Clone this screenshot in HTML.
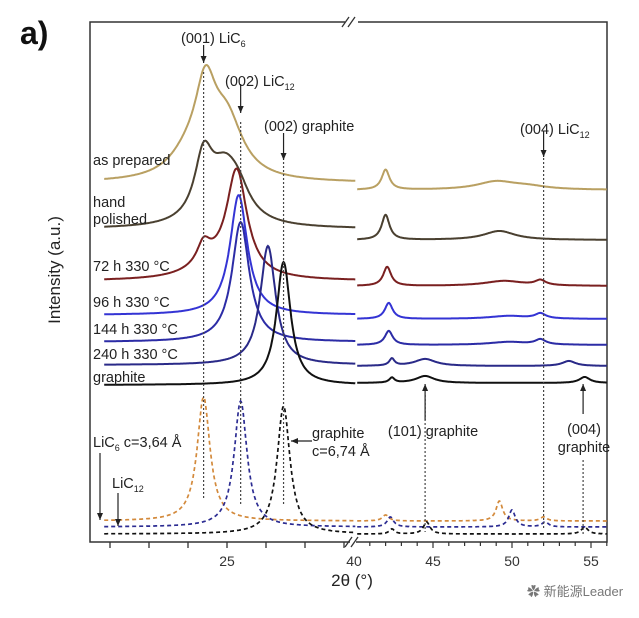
<!DOCTYPE html>
<html><head><meta charset="utf-8">
<style>
html,body{margin:0;padding:0;background:#fff;}
svg{display:block;font-family:"Liberation Sans","Noto Sans CJK SC",sans-serif;}
</style></head>
<body>
<svg id="chart" width="639" height="618" viewBox="0 0 639 618">
  <text x="20" y="44" font-size="32" font-weight="bold" fill="#111">a)</text>
  <text transform="translate(60,270) rotate(-90)" text-anchor="middle" font-size="17" fill="#222">Intensity (a.u.)</text>
  <text x="352" y="586" text-anchor="middle" font-size="17" fill="#222">2θ (°)</text>
  <g id="frame"></g>
  <g id="marks"></g>
  <g id="annot"></g>
  <text x="527" y="596" font-size="13" fill="#777">✿ 新能源Leader</text>
</svg>
<script>
// ---- data ----
const seriesNames = ["as prepared","hand polished","72 h 330 °C","96 h 330 °C","144 h 330 °C","240 h 330 °C","graphite"];
const seriesColors = ["#b9a062","#4a4030","#7a2020","#3434d4","#2c2ca6","#2a2a88","#111111"];
const leftBase = [183,229,281,315,342,365,385];
const rightBase = [190,240,286,319,345,366,383];
const leftPeaks = [
  [[24.45,80,0.33],[25.0,55,0.5],[24.0,20,0.6]],
  [[24.4,60,0.28],[24.95,55,0.5],[25.3,18,0.35]],
  [[25.25,105,0.32],[24.4,20,0.2],[24.6,12,0.7]],
  [[25.3,120,0.27]],
  [[25.35,120,0.27]],
  [[26.05,119,0.24]],
  [[26.45,123,0.22]]
];
const rightPeaks = [
  [[42.0,20,0.3],[49,8,1.5],[51,3,1.5]],
  [[42.0,25,0.3],[49.2,9,1.2]],
  [[42.1,19,0.3],[49.5,5,1.5],[51.8,5,0.4]],
  [[42.2,16,0.3],[49.8,3,1.5],[51.8,5,0.4]],
  [[42.2,14,0.3],[49.8,3,1.5],[51.8,5,0.4]],
  [[42.4,7,0.2],[44.5,7,0.8],[53.6,5,0.5]],
  [[42.4,5,0.2],[44.5,7,0.7],[54.6,6,0.4]]
];
const simNames = ["LiC6 sim","LiC12 sim","graphite sim"];
const simColors = ["#d38a3c","#2c2c92","#111111"];
const simBase = [521,527,534];
const simLeftPeaks = [[[24.4,124,0.2]],[[25.35,126,0.2]],[[26.45,128,0.2]]];
const simRightPeaks = [
  [[42.0,6,0.25],[49.2,20,0.25],[52,4,0.25]],
  [[42.3,10,0.25],[50.0,17,0.25],[52.1,5,0.25]],
  [[42.4,5,0.2],[44.6,12,0.25],[54.6,7,0.25]]
];
const leftTicks = [22,23,24,25,26,27,28];
const leftTickLabels = ["","","","25","","",""];
const rightTicks = [40,45,50,55];
const rightTickLabels = ["40","45","50","55"];

// ---- scales ----
const xL = t => 227 + (t - 25) * 39;
const xR = t => 354 + (t - 40) * 15.8;
const yI = (base, I) => base - I;
const NS = "http://www.w3.org/2000/svg";
function mk(tag, attrs, parent){const e=document.createElementNS(NS,tag);for(const k in attrs)e.setAttribute(k,attrs[k]);parent.appendChild(e);return e;}
const frame=document.getElementById('frame'), marks=document.getElementById('marks'), annot=document.getElementById('annot');
function inten(t, peaks){let s=0;for(const p of peaks){const d=(t-p[0])/p[2];s+=p[1]/(1+d*d);}return s;}
function path(x, t0, t1, base, peaks){let d="";for(let t=t0;t<=t1+1e-9;t+=0.02){d+=(d?"L":"M")+x(t).toFixed(1)+","+yI(base,inten(t,peaks)).toFixed(1);}return d;}

// frame
const ax = mk('path',{d:"M350,542 H90 V22 H345 M358,22 H607 V542 H356",fill:"none",stroke:"#333","stroke-width":1.5},frame);
 
const brk = mk('path',{d:"M342,27 L349,17 M348,27 L355,17 M345,547 L352,537 M351,547 L358,537",stroke:"#333","stroke-width":1.3,fill:"none"},frame);
 
leftTicks.forEach((t,i)=>{
  const tk=mk('line',{x1:xL(t),x2:xL(t),y1:542,y2:548,stroke:"#333","stroke-width":1.3},frame);
   
  if(leftTickLabels[i]){const lb=mk('text',{x:xL(t),y:566,"text-anchor":"middle","font-size":14,fill:"#333"},frame);lb.textContent=leftTickLabels[i];
     }
});
for(let t=41;t<=56;t++){
  const major=rightTicks.includes(t);
  const tk=mk('line',{x1:xR(t),x2:xR(t),y1:542,y2:major?548:546,stroke:"#333","stroke-width":1.2},frame);
   
}
rightTicks.forEach((t,i)=>{const lb=mk('text',{x:xR(t),y:566,"text-anchor":"middle","font-size":14,fill:"#333"},frame);lb.textContent=rightTickLabels[i];
   });

// measured series
seriesNames.forEach((n,i)=>{
  const g=mk('g',{},marks);
  
  
  mk('path',{d:path(xL,21.85,28.3,leftBase[i],leftPeaks[i]),fill:"none",stroke:seriesColors[i],"stroke-width":2}, g);
  mk('path',{d:path(xR,40.2,56.0,rightBase[i],rightPeaks[i]),fill:"none",stroke:seriesColors[i],"stroke-width":2}, g);
});
// simulated series
simNames.forEach((n,i)=>{
  const g=mk('g',{},marks);
  
  
  mk('path',{d:path(xL,21.85,28.3,simBase[i],simLeftPeaks[i]),fill:"none",stroke:simColors[i],"stroke-width":1.7,"stroke-dasharray":"4,3"},g);
  mk('path',{d:path(xR,40.2,56.0,simBase[i],simRightPeaks[i]),fill:"none",stroke:simColors[i],"stroke-width":1.7,"stroke-dasharray":"4,3"},g);
});

// sample labels
const labelY=[165,207,271,307,334,359,382];
const labelTxt=[["as prepared"],["hand","polished"],["72 h 330 °C"],["96 h 330 °C"],["144 h 330 °C"],["240 h 330 °C"],["graphite"]];
labelTxt.forEach((arr,i)=>{arr.forEach((s,j)=>{const t=mk('text',{x:93,y:labelY[i]+j*17,"font-size":14.5,fill:"#222"},annot);t.textContent=s;
   });});

// dotted reference lines
const dots=[[xL(24.4),72,500],[xL(25.35),122,505],[xL(26.45),162,505],[xR(52.0),150,528],[xR(44.5),395,532],[xR(54.5),460,535]];
dots.forEach(d=>{const l=mk('line',{x1:d[0],x2:d[0],y1:d[1],y2:d[2],stroke:"#444","stroke-width":1.2,"stroke-dasharray":"2,2"},annot);
   });
// arrows
function arrow(x1,y1,x2,y2){const l=mk('line',{x1,y1,x2,y2,stroke:"#222","stroke-width":1.2},annot);
   
  const a=Math.atan2(y2-y1,x2-x1),s=7,w=3;
  mk('polygon',{points:`${x2},${y2} ${x2-s*Math.cos(a)+w*Math.sin(a)},${y2-s*Math.sin(a)-w*Math.cos(a)} ${x2-s*Math.cos(a)-w*Math.sin(a)},${y2-s*Math.sin(a)+w*Math.cos(a)}`,fill:"#222"},annot);}
arrow(xL(24.4),45,xL(24.4),63);
arrow(xL(25.35),84,xL(25.35),113);
arrow(xL(26.45),133,xL(26.45),160);
arrow(xR(52.0),131,xR(52.0),157);
arrow(xR(44.5),420,xR(44.5),384);
arrow(xR(54.5),414,xR(54.5),384);
arrow(100,453,100,520);
arrow(118,493,118,526);
arrow(312,441,291,441);
// annotation text
function txt(x,y,html,anchor){const t=mk('text',{x,y,"font-size":14.5,fill:"#222","text-anchor":anchor||"start"},annot);t.innerHTML=html;
   return t;}
txt(181,43,'(001) LiC<tspan font-size="9" dy="4">6</tspan>');
txt(225,86,'(002) LiC<tspan font-size="9" dy="4">12</tspan>');
txt(264,131,'(002) graphite');
txt(520,134,'(004) LiC<tspan font-size="9" dy="4">12</tspan>');
txt(433,436,'(101) graphite','middle');
txt(584,434,'(004)','middle');
txt(584,452,'graphite','middle');
txt(93,447,'LiC<tspan font-size="9" dy="4">6</tspan><tspan dy="-4"> c=3,64 Å</tspan>');
txt(112,488,'LiC<tspan font-size="9" dy="4">12</tspan>');
txt(312,438,'graphite');
txt(312,456,'c=6,74 Å');
</script>
</body></html>
